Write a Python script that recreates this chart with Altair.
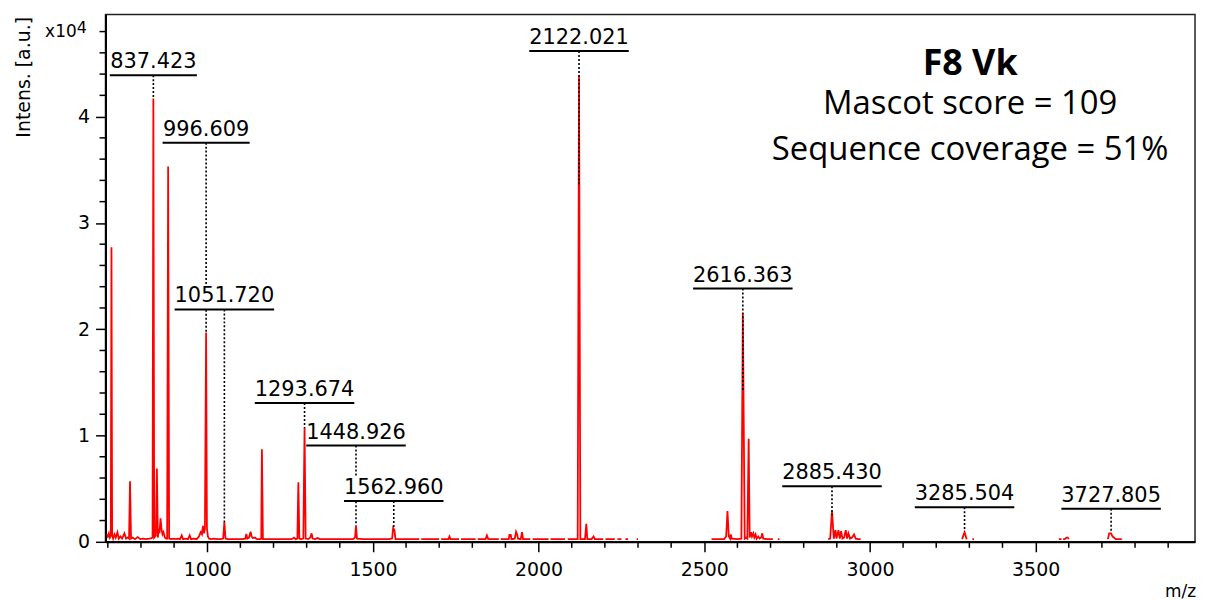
import altair as alt

# ---------------- data: spectrum trace, as (m/z, intensity) segments ----------------
seg_main = [
    (697, 700), (700, 500), (703, 800), (706, 400), (709, 600), (711, 27700), (713, 600), (716, 300),
    (720, 700), (724, 400), (729, 900), (733, 300), (738, 500), (743, 300), (750, 800), (755, 300),
    (760, 400), (764, 300), (767, 5700), (770, 300), (775, 400), (782, 250), (790, 450), (798, 250),
    (806, 300), (815, 250), (825, 300), (832, 350), (835, 400), (837.4, 41700), (840, 400), (845, 600),
    (848, 6900), (851, 400), (853, 1200), (856, 800), (859, 2200), (862, 1200), (865, 700), (868, 900),
    (872, 400), (876, 300), (879, 300), (882, 35300), (885, 300), (890, 250), (897, 300), (905, 250),
    (912, 300), (918, 250), (923, 600), (927, 250), (935, 300), (942, 250), (947, 600), (951, 250),
    (960, 300), (968, 250), (975, 500), (980, 900), (984, 700), (987, 1500), (990, 800), (993, 1200),
    (996.6, 19700), (999, 1300), (1002, 500), (1006, 300), (1012, 250), (1020, 300), (1030, 250),
    (1040, 250), (1048, 300), (1051.7, 1850), (1055, 300), (1062, 250), (1075, 250), (1090, 250),
    (1105, 250), (1115, 300), (1118, 750), (1121, 300), (1126, 400), (1131, 950), (1134, 500),
    (1138, 350), (1144, 400), (1150, 250), (1160, 250), (1163, 300), (1165, 8700), (1168, 250),
    (1180, 250), (1200, 250), (1220, 250), (1240, 250), (1255, 250), (1262, 400), (1267, 250),
    (1272, 300), (1275, 5600), (1278, 300), (1283, 250), (1290, 300), (1293.7, 10700), (1297, 300),
    (1305, 250), (1311, 400), (1315, 800), (1318, 300), (1325, 250), (1333, 350), (1340, 250),
    (1360, 250), (1380, 250), (1400, 250), (1420, 250), (1440, 250), (1446, 400), (1448.9, 1500),
    (1452, 300), (1470, 250), (1490, 250), (1510, 250), (1530, 250), (1550, 250), (1558, 300),
    (1561, 1300), (1565, 1100), (1568, 250), (1580, 250), (1600, 250), (1640, 250),
]
seg_b1 = [(1646, 250), (1700, 250)]
seg_b2 = [(1706, 250), (1728, 250), (1731, 500), (1734, 250), (1760, 250)]
seg_b3 = [(1766, 250), (1810, 250)]
seg_b4 = [(1816, 250), (1840, 250), (1844, 600), (1848, 250), (1880, 250)]
seg_b5 = [(1886, 250), (1910, 250), (1912, 650), (1916, 650), (1918, 250), (1928, 300), (1932, 950),
          (1935, 700), (1938, 300), (1946, 250), (1950, 900), (1953, 250), (1975, 250)]
seg_b6 = [(1982, 250), (2030, 250)]
seg_b7 = [(2036, 250), (2080, 250)]
seg_b8 = [(2088, 250), (2118, 250), (2122.0, 43900), (2126, 250), (2140, 250), (2144, 1700),
          (2147, 250), (2160, 250), (2166, 500), (2170, 250), (2195, 250)]
seg_b9 = [(2202, 250), (2230, 250)]
seg_b10 = [(2238, 250), (2250, 250)]
seg_b11 = [(2262, 250), (2270, 250)]
seg_b12 = [(2296, 250), (2300, 250)]
seg_c = [(2522, 250), (2560, 250), (2566, 500), (2570, 2900), (2574, 500), (2578, 300), (2580, 700),
         (2583, 300), (2600, 250), (2612, 300), (2616.4, 21500), (2622, 300), (2626, 400), (2630, 300),
         (2634, 9700), (2637, 400), (2641, 900), (2644, 500), (2648, 800), (2651, 400), (2655, 700),
         (2658, 300), (2663, 500), (2667, 300), (2672, 400), (2675, 800), (2678, 300), (2690, 250),
         (2707, 250)]
seg_c2 = [(2722, 250), (2727, 250)]
seg_d = [(2874, 250), (2880, 300), (2885.4, 2900), (2891, 300), (2896, 1100), (2899, 300), (2905, 1100),
         (2909, 300), (2913, 1000), (2917, 300), (2922, 400), (2927, 1100), (2931, 300), (2935, 800),
         (2940, 300), (2946, 400), (2952, 700), (2957, 300), (2965, 250), (2972, 250)]
seg_e1 = [(3278, 250), (3285.5, 900), (3292, 250)]
seg_e2 = [(3309, 250), (3314, 250)]
seg_f1 = [(3570, 250), (3578, 250)]
seg_f2 = [(3583, 250), (3588, 250), (3593, 400), (3597, 400), (3600, 250)]
seg_f3 = [(3718, 250), (3722, 800), (3727.8, 800), (3732, 500), (3736, 400), (3742, 250), (3760, 250)]

segments = [seg_main, seg_b1, seg_b2, seg_b3, seg_b4, seg_b5, seg_b6, seg_b7, seg_b8, seg_b9,
            seg_b10, seg_b11, seg_b12, seg_c, seg_c2, seg_d, seg_e1, seg_e2, seg_f1, seg_f2, seg_f3]

# ---------------- data: peak annotations ----------------
label_text = ["837.423", "996.609", "1051.720", "1293.674", "1448.926", "1562.960",
              "2122.021", "2616.363", "2885.430", "3285.504", "3727.805"]
label_mz = [837.423, 996.609, 1051.720, 1293.674, 1448.926, 1562.960,
            2122.021, 2616.363, 2885.430, 3285.504, 3727.805]
label_level = [43900, 37550, 21860, 13050, 9050, 3830, 46170, 23830, 5230, 3260, 3110]
label_end = [41700, 19700, 1850, 10700, 1500, 1300, 33500, 14100, 2500, 1000, 900]

# ---------------- axis ticks ----------------
x_major = [1000, 1500, 2000, 2500, 3000, 3500]
x_minor = [700, 800, 900, 1100, 1200, 1300, 1400, 1600, 1700, 1800, 1900, 2100, 2200, 2300, 2400,
           2600, 2700, 2800, 2900, 3100, 3200, 3300, 3400, 3600, 3700, 3800, 3900]
y_major = [0, 10000, 20000, 30000, 40000]
y_minor = [2000, 4000, 6000, 8000, 12000, 14000, 16000, 18000, 22000, 24000, 26000, 28000,
           32000, 34000, 36000, 38000, 42000, 44000, 46000, 48000]

title_main = "F8 Vk"
info_lines = ["Mascot score = 109", "Sequence coverage = 51%"]

# ---------------- chart ----------------
W, H = 1095, 530
trace = [{"seg": k, "mz": m, "i": v} for k, seg in enumerate(segments) for (m, v) in seg]
labels = [{"label": t, "mz": m, "level": l, "end": e}
          for t, m, l, e in zip(label_text, label_mz, label_level, label_end)]

xscale = alt.Scale(domain=[693, 3981], nice=False, zero=False)
yscale = alt.Scale(domain=[0, 49610], nice=False, zero=False)

x_axis = alt.Axis(
    values=x_major, title=None, grid=False, format="d",
    tickSize=10, tickColor="black", tickWidth=1.5, domainColor="black", domainWidth=2,
    labelFont="DejaVu Sans", labelFontSize=19, labelColor="black",
    labelPadding=9, labelFlush=False,
)
y_axis = alt.Axis(
    values=y_major, grid=False, labelExpr="format(datum.value / 10000, 'd')",
    tickSize=10, tickColor="black", tickWidth=1.5, domainColor="black", domainWidth=2,
    labelFont="DejaVu Sans", labelFontSize=19, labelColor="black",
    labelPadding=6, labelFlush=False,
    title="Intens. [a.u.]", titleAnchor="end", titleAlign="right", titleAngle=-90,
    titleBaseline="alphabetic", titleX=-76, titleY=2,
    titleFont="DejaVu Sans", titleFontSize=19, titleFontWeight="normal", titleColor="black",
)

line = alt.Chart(alt.Data(values=trace)).mark_line(color="#ff0000", strokeWidth=1.8, clip=True).encode(
    x=alt.X("mz:Q", scale=xscale, axis=x_axis),
    y=alt.Y("i:Q", scale=yscale, axis=y_axis),
    detail="seg:N",
)

# minor ticks (outside the plot, through the same scales)
xminor = alt.Chart(alt.Data(values=[{"v": v} for v in x_minor])).mark_rule(
    color="black", strokeWidth=1.5).encode(x="v:Q", y=alt.value(H), y2=alt.value(H + 6))
yminor = alt.Chart(alt.Data(values=[{"v": v} for v in y_minor])).mark_rule(
    color="black", strokeWidth=1.5).encode(y="v:Q", x=alt.value(-6), x2=alt.value(0))

lab = alt.Chart(alt.Data(values=labels)).transform_calculate(
    w="length(datum.label) * 12.5", wb="length(datum.label) * 12.5 - 4"
)
dotted = lab.mark_rule(color="black", strokeWidth=1.6, strokeDash=[2, 2]).encode(
    x="mz:Q", y="level:Q", y2="end:Q"
)
boxes = lab.mark_tick(orient="horizontal", color="white", opacity=1, thickness=24, yOffset=-13).encode(
    x="mz:Q", y="level:Q", size=alt.Size("wb:Q", scale=None, legend=None)
)
hlines = lab.mark_tick(orient="horizontal", color="black", opacity=1, thickness=2).encode(
    x="mz:Q", y="level:Q", size=alt.Size("w:Q", scale=None, legend=None)
)
texts = lab.mark_text(font="DejaVu Sans", fontSize=21, color="black", baseline="alphabetic",
                      align="center", dy=-7).encode(x="mz:Q", y="level:Q", text="label:N")

one = alt.Chart(alt.Data(values=[{"a": 1}]))
x10 = one.mark_text(text="x10", font="DejaVu Sans", fontSize=17, color="black", align="right",
                    baseline="alphabetic").encode(x=alt.value(-29), y=alt.value(23))
exp4 = one.mark_text(text="4", font="DejaVu Sans", fontSize=16, color="black", align="left",
                     baseline="alphabetic").encode(x=alt.value(-29), y=alt.value(19))
mz_lab = one.mark_text(text="m/z", font="DejaVu Sans", fontSize=17, color="black", align="right",
                       baseline="alphabetic").encode(x=alt.value(W + 1), y=alt.value(585))
t_main = one.mark_text(text=title_main, font="Open Sans", fontSize=36, fontWeight="bold", color="black",
                       align="center", baseline="alphabetic").encode(x=alt.value(869), y=alt.value(61))
t_l1 = one.mark_text(text=info_lines[0], font="Open Sans", fontSize=33, color="black",
                     align="center", baseline="alphabetic").encode(x=alt.value(869), y=alt.value(100))
t_l2 = one.mark_text(text=info_lines[1], font="Open Sans", fontSize=33, color="black",
                     align="center", baseline="alphabetic").encode(x=alt.value(869), y=alt.value(146))

chart = alt.layer(
    line, xminor, yminor, dotted, boxes, hlines, texts, x10, exp4, mz_lab, t_main, t_l1, t_l2
).properties(
    width=W, height=H,
    autosize=alt.AutoSizeParams(type="none"),
    padding={"left": 98, "top": 5, "right": 3, "bottom": 60},
    background="white",
).configure_view(stroke="#222", strokeWidth=1.5)

chart.save("out.html", embed_options={"renderer": "svg", "actions": False})
